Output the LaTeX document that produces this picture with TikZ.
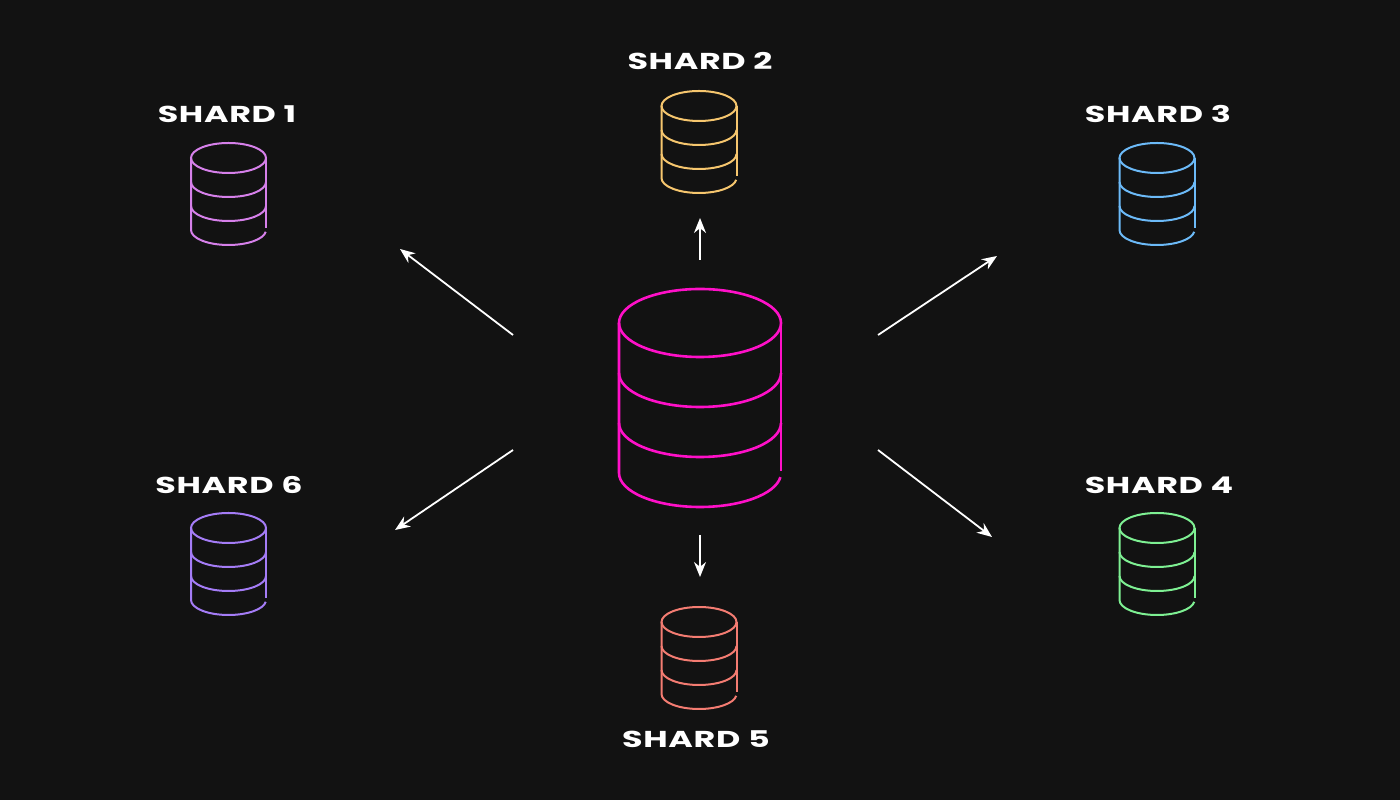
\documentclass[tikz,border=0pt]{standalone}
\usepackage{fontspec}
\setmainfont{Poppins}[UprightFont=* Bold,LetterSpace=2]
\usetikzlibrary{arrows.meta}
\definecolor{bg}{HTML}{121212}
\definecolor{cmain}{HTML}{FF10C8}
\definecolor{cone}{HTML}{D680EA}
\definecolor{ctwo}{HTML}{F6C66E}
\definecolor{cthree}{HTML}{6CBAF8}
\definecolor{cfour}{HTML}{7EF093}
\definecolor{cfive}{HTML}{F47C72}
\definecolor{csix}{HTML}{A47CF6}
\newcommand\dbcyl[7]{%
  \draw[#6] (#1,#2) ellipse [x radius=#3pt, y radius=#4pt];
  \draw[#6] ({#1-#3},#2) -- ++(0,{-3*#5}) arc[start angle=180,end angle=360-7,x radius=#3pt,y radius=#4pt];
  \draw[#6] ({#1+#3},#2) -- ++(0,{-3*#5+2});
  \draw[#6] ({#1+#3},{#2-#5}) arc[start angle=0,end angle=-180,x radius=#3pt,y radius=#4pt];
  \draw[#6] ({#1+#3},{#2-2*#5}) arc[start angle=0,end angle=-180,x radius=#3pt,y radius=#4pt];
  \node[inner sep=0pt,minimum width={2*#3pt},minimum height={3*#5pt+2*#4pt}] (#7) at (#1,{#2-1.5*#5}) {};
}
\newcommand\wide[1]{\scalebox{1.45}[1]{#1}}
\tikzset{
  lbl/.style={text=white,font=\fontsize{23}{23}\selectfont,inner sep=0pt},
  arr/.style={white,line width=1.8pt,-{Stealth[length=15pt,width=12pt]}},
  big/.style={line width=2.6pt},
  small/.style={line width=2pt}
}
\begin{document}
\begin{tikzpicture}[x=1pt,y=1pt]
\fill[bg] (0,0) rectangle (1400,800);
\useasboundingbox (0,0) rectangle (1400,800);
\dbcyl{700}{477}{81}{34}{50}{cmain,big}{main}
\dbcyl{228.5}{642}{37.5}{15}{24}{cone,small}{s1}
\dbcyl{699}{694}{37.5}{15}{24}{ctwo,small}{s2}
\dbcyl{1157}{642}{37.5}{15}{24}{cthree,small}{s3}
\dbcyl{1157}{272}{37.5}{15}{24}{cfour,small}{s4}
\dbcyl{699}{178}{37.5}{15}{24}{cfive,small}{s5}
\dbcyl{228.5}{272}{37.5}{15}{24}{csix,small}{s6}
\node[lbl] (l1) at (227,686) {\wide{SHARD 1}};
\node[lbl] (l2) at (700,739) {\wide{SHARD 2}};
\node[lbl] (l3) at (1158,686) {\wide{SHARD 3}};
\node[lbl] (l4) at (1159,315) {\wide{SHARD 4}};
\node[lbl] (l5) at (696,61) {\wide{SHARD 5}};
\node[lbl] (l6) at (229,315) {\wide{SHARD 6}};
\coordinate (a1) at (700,540); \coordinate (b1) at (700,582);
\coordinate (a2) at (700,265); \coordinate (b2) at (700,223);
\coordinate (a3) at (513,465); \coordinate (b3) at (400,551);
\coordinate (a4) at (878,465); \coordinate (b4) at (997,544);
\coordinate (a5) at (513,350); \coordinate (b5) at (395,270);
\coordinate (a6) at (878,350); \coordinate (b6) at (992,263);
\foreach \i in {1,...,6} \draw[arr] (a\i) -- (b\i);
\end{tikzpicture}
\end{document}
